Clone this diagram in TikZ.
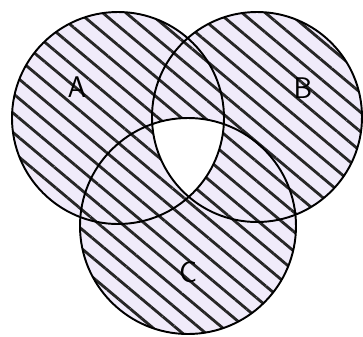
\documentclass[tikz,border=0pt]{standalone}
\usetikzlibrary{patterns.meta}

\begin{document}
\begin{tikzpicture}[
    x=0.02cm, y=-0.02cm,
    ring/.style = {draw=black, line width=1.1pt},
    shade/.style = {fill=blue!50!violet!8, postaction={pattern={Lines[angle=-40, distance=8.5pt, line width=1.6pt]}, pattern color=black!85}},
    setname/.style = {font=\sffamily\fontsize{17}{19}\selectfont, inner sep=0pt}
]
    \useasboundingbox (0,0) rectangle (363,336);
    \coordinate (cA) at (118,118);
    \coordinate (cB) at (257,117);
    \coordinate (cC) at (188,226);
    % shaded union
    \path [shade] (cA) circle [radius=106];
    \path [shade] (cB) circle [radius=105];
    \path [shade] (cC) circle [radius=108];
    % empty middle
    \begin{scope}
        \clip (cA) circle [radius=106];
        \clip (cB) circle [radius=105];
        \fill [white] (cC) circle [radius=108];
    \end{scope}
    \draw [ring] (cA) circle [radius=106];
    \draw [ring] (cB) circle [radius=105];
    \draw [ring] (cC) circle [radius=108];
    \node [setname] (labA) at (77,87) {A};
    \node [setname] (labB) at (303,88) {B};
    \node [setname] (labC) at (188,272) {C};
\end{tikzpicture}
\end{document}
